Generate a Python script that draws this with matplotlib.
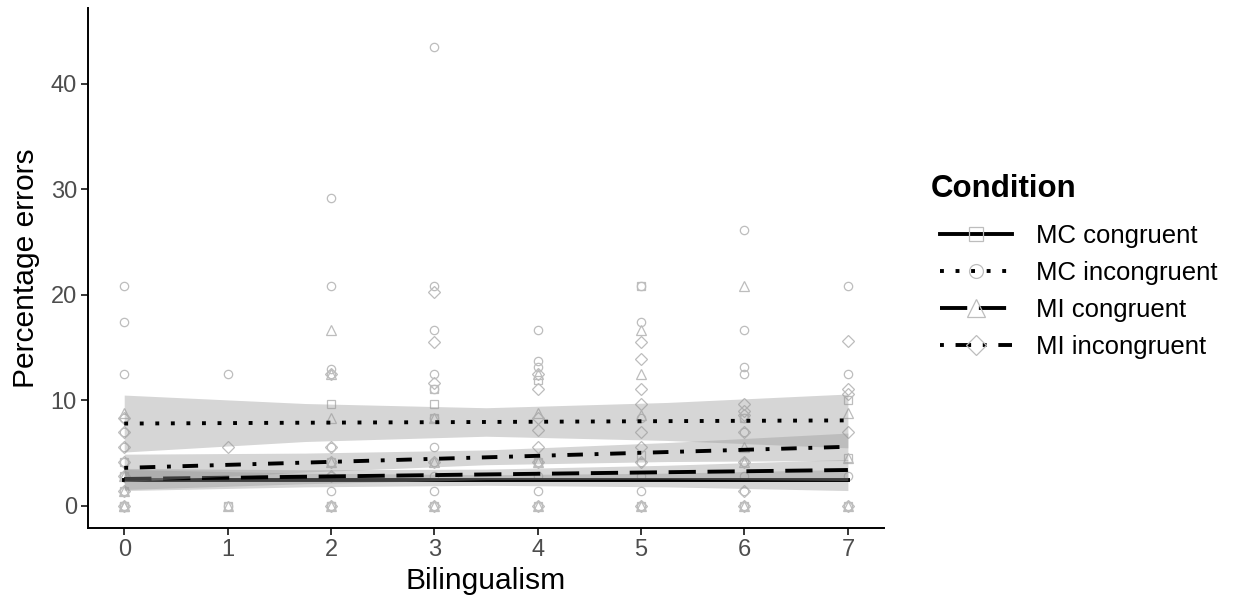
import numpy as np
import matplotlib
matplotlib.use("Agg")
import matplotlib.pyplot as plt
from matplotlib.lines import Line2D

plt.rcParams['font.family'] = ['Liberation Sans', 'DejaVu Sans']

# ---- raw points (x = bilingualism, y = % errors)
mc_con_x = [0, 0, 0, 0, 0, 1, 2, 2, 2, 2, 3, 3, 3, 3, 4, 4, 4, 5, 5, 5, 6, 6, 7, 7, 7]
mc_con_y = [0, 0, 1.4, 2.8, 4.2, 0, 9.7, 4.2, 0, 0, 11.1, 9.7, 8.3, 0, 11.9, 4.2, 0,
            20.8, 4.8, 0, 8.3, 0, 10.0, 4.5, 0]

mc_inc_x = [0] * 10 + [1] * 2 + [2] * 8 + [3] * 11 + [4] * 7 + [5] * 7 + [6] * 10 + [7] * 4
mc_inc_y = [20.8, 17.4, 12.5, 8.3, 7.0, 5.6, 4.2, 2.8, 1.4, 0,
            12.5, 0,
            29.2, 20.8, 13.0, 12.5, 5.6, 2.8, 1.4, 0,
            43.5, 20.8, 16.7, 12.5, 11.1, 8.3, 5.6, 4.2, 2.8, 1.4, 0,
            16.7, 13.7, 13.2, 4.2, 2.8, 1.4, 0,
            20.8, 17.4, 8.3, 4.2, 2.8, 1.4, 0,
            26.1, 16.7, 13.2, 12.5, 8.3, 7.0, 4.2, 2.8, 1.4, 0,
            20.8, 12.5, 2.8, 0]

mi_con_x = [0] * 5 + [1] + [2] * 5 + [3] * 3 + [4] * 4 + [5] * 4 + [6] * 4 + [7] * 3
mi_con_y = [0, 0, 1.4, 2.8, 8.8,
            0,
            16.7, 12.5, 8.3, 4.2, 0,
            8.3, 4.2, 0,
            12.5, 8.8, 4.2, 0,
            16.7, 12.5, 8.6, 0,
            20.8, 5.6, 4.2, 0,
            8.8, 4.5, 0]

mi_inc_x = [0] * 7 + [1] + [2] * 5 + [3] * 5 + [4] * 7 + [5] * 8 + [6] * 7 + [7] * 5
mi_inc_y = [0, 1.4, 2.8, 4.2, 5.6, 7.0, 8.3,
            5.6,
            12.5, 5.6, 4.2, 2.8, 0,
            20.3, 15.5, 11.6, 4.2, 0,
            12.5, 11.1, 8.3, 7.2, 5.6, 4.2, 0,
            15.5, 13.9, 11.1, 9.7, 7.0, 5.6, 4.2, 0,
            9.7, 9.0, 8.6, 7.0, 4.2, 1.4, 0,
            15.6, 11.1, 10.6, 7.0, 0]

# ---- fitted lines and confidence bands
band_x = [0, 1.75, 3.5, 5.25, 7]
mc_con_fit = [2.45, 2.45, 2.45, 2.45, 2.45]
mc_con_lo = [1.45, 1.8, 1.95, 1.8, 1.45]
mc_con_hi = [3.45, 3.1, 2.95, 3.1, 3.45]
mc_inc_fit = [7.8, 7.88, 7.95, 8.03, 8.1]
mc_inc_lo = [5.1, 6.1, 6.6, 6.2, 5.5]
mc_inc_hi = [10.5, 9.7, 9.3, 9.8, 10.6]
mi_con_fit = [2.55, 2.76, 2.98, 3.19, 3.4]
mi_con_lo = [1.55, 2.1, 2.48, 2.53, 2.4]
mi_con_hi = [3.55, 3.42, 3.48, 3.85, 4.4]
mi_inc_fit = [3.6, 4.1, 4.6, 5.1, 5.6]
mi_inc_lo = [2.3, 3.2, 3.9, 4.2, 4.3]
mi_inc_hi = [4.9, 5.0, 5.3, 6.0, 6.9]

labels = ["MC congruent", "MC incongruent", "MI congruent", "MI incongruent"]
markers = ["s", "o", "^", "D"]
msizes = [6, 6, 7.5, 6]
styles = ["-", (0, (1, 3)), (0, (7, 3)), (0, (1, 3, 4, 3))]

pts = [(mc_con_x, mc_con_y), (mc_inc_x, mc_inc_y), (mi_con_x, mi_con_y), (mi_inc_x, mi_inc_y)]
fits = [(mc_con_fit, mc_con_lo, mc_con_hi), (mc_inc_fit, mc_inc_lo, mc_inc_hi),
        (mi_con_fit, mi_con_lo, mi_con_hi), (mi_inc_fit, mi_inc_lo, mi_inc_hi)]

pt_col = "#bdbdbd"
lw = 2.8

fig = plt.figure(figsize=(12.33, 6.04), dpi=100)
ax = fig.add_axes([0.0714, 0.1258, 0.6456, 0.8612])

for (xs, ys), m, ms in zip(pts, markers, msizes):
    ax.plot(xs, ys, ls="none", marker=m, ms=ms, mfc="none", mec=pt_col, mew=0.9, zorder=2)

# ribbon then line per group, so later ribbons sit over earlier lines
z = 3
for (f, lo, hi), st in zip(fits, styles):
    ax.fill_between(band_x, lo, hi, color="#999999", alpha=0.4, lw=0, zorder=z)
    ax.plot(band_x, f, color="black", lw=lw, ls=st, dash_capstyle="butt", zorder=z + 1)
    z += 2

ax.set_xlim(-0.35, 7.35)
ax.set_ylim(-2.1, 47.2)
ax.set_xticks(range(8))
ax.set_yticks([0, 10, 20, 30, 40])
for s in ["top", "right"]:
    ax.spines[s].set_visible(False)
for s in ["left", "bottom"]:
    ax.spines[s].set_linewidth(1.4)
ax.tick_params(length=5, width=1.1, labelsize=17, labelcolor="#4d4d4d", pad=3)
ax.set_xlabel("Bilingualism", fontsize=21.6, labelpad=4)
ax.set_ylabel("Percentage errors", fontsize=21.6, labelpad=8)

handles = []
leg_ms = [10, 10, 13, 10]
for m, ms, st in zip(markers, leg_ms, styles):
    handles.append(Line2D([], [], color="black", lw=lw, ls=st, dash_capstyle="butt",
                          marker=m, ms=ms, mfc="none", mec=pt_col, mew=0.9))
fig.text(0.755, 0.687, "Condition", fontsize=22.5, fontweight="bold", va="center", ha="left")
leg = fig.legend(handles, labels, loc="upper left", bbox_to_anchor=(0.7624, 0.629),
                 frameon=False, fontsize=18.5, handlelength=2.8, handletextpad=0.93,
                 labelspacing=0.5, borderpad=0, borderaxespad=0)

fig.savefig("out.png", dpi=100)
